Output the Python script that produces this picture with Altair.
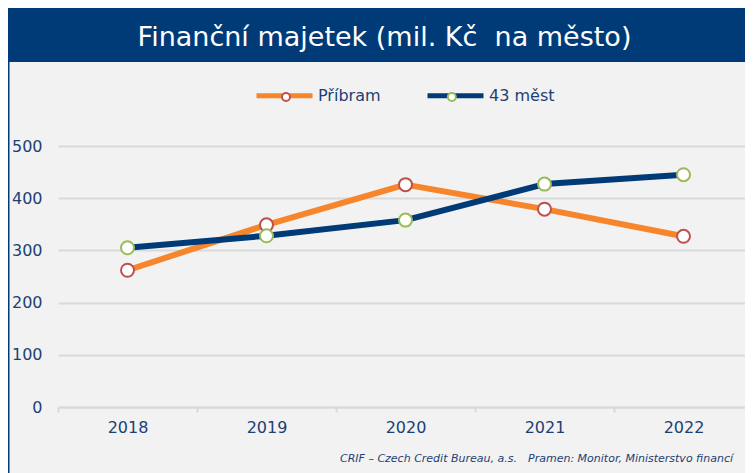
import altair as alt
import pandas as pd

# ---- data ----
years = ["2018", "2019", "2020", "2021", "2022"]
series_names = ["Příbram", "43 měst"]
pribram = [262, 349, 426, 379, 327]
mest43 = [305, 328, 358, 427, 445]

title_text = "Finanční majetek (mil. Kč\u00a0\u00a0na město)"
footer_left = "CRIF – Czech Credit Bureau, a.s."
footer_right = "Pramen: Monitor, Ministerstvo financí"

rows = []
for y, v in zip(years, pribram):
    rows.append({"rok": y, "serie": series_names[0], "hodnota": v})
for y, v in zip(years, mest43):
    rows.append({"rok": y, "serie": series_names[1], "hodnota": v})
df = pd.DataFrame(rows)

# ---- styles ----
NAVY = "#003B78"
ORANGE = "#F6852B"
RED = "#C0504D"
GREEN = "#9BBB59"
TEXT = "#1D3F72"
GRID = "#D9D9D9"
BG = "#F2F2F2"
FONT = "DejaVu Sans"

W, H = 695, 261
PAD_L, PAD_T, PAD_R, PAD_B = 50, 138, -8, 66

x_enc = alt.X(
    "rok:N",
    sort=years,
    bandPosition=0.5,
    scale=alt.Scale(type="band", paddingInner=0, paddingOuter=0),
    axis=alt.Axis(
        title=None, labelAngle=0, grid=False,
        domainColor=GRID, domainWidth=2,
        tickColor=GRID, tickWidth=2, tickSize=5, tickBand="extent",
        labelFont=FONT, labelFontSize=16, labelColor=TEXT,
        labelBaseline="middle", labelPadding=15,
    ),
)
y_enc = alt.Y(
    "hodnota:Q",
    scale=alt.Scale(domain=[0, 500], nice=False),
    axis=alt.Axis(
        title=None, values=[0, 100, 200, 300, 400, 500],
        grid=True, gridColor=GRID, gridWidth=2,
        domain=False, ticks=False, labelPadding=16,
        labelFont=FONT, labelFontSize=16, labelColor=TEXT,
    ),
)

L = 56      # legend line length
D = 8       # legend circle diameter
LX = 196
LY = -81
COLPAD = 36
LABW = 62.8  # approx width of first legend label

lines = alt.Chart(df).mark_line(strokeWidth=6, strokeCap="round", strokeJoin="round").encode(
    x=x_enc,
    y=y_enc,
    color=alt.Color(
        "serie:N",
        scale=alt.Scale(domain=series_names, range=[ORANGE, NAVY]),
        legend=alt.Legend(
            title=None, orient="none", direction="horizontal",
            legendX=LX, legendY=LY, padding=0,
            symbolType="stroke", symbolSize=L * L, symbolStrokeWidth=5,
            labelFont=FONT, labelFontSize=16, labelColor=TEXT,
            labelOffset=3, columnPadding=COLPAD,
        ),
    ),
    detail="serie:N",
)

points = alt.Chart(df).mark_point(shape="circle", filled=False, fill="white", fillOpacity=1,
                                  size=169, strokeWidth=2, opacity=1).encode(
    x=x_enc,
    y=y_enc,
    stroke=alt.Stroke(
        "serie:N",
        scale=alt.Scale(domain=series_names, range=[RED, GREEN]),
        legend=alt.Legend(
            title=None, orient="none", direction="horizontal",
            legendX=LX + L / 2 - D / 2, legendY=LY + L / 2 - D / 2, padding=0,
            symbolType="circle", symbolSize=D * D, symbolStrokeWidth=2,
            symbolFillColor="white",
            labelExpr="''", labelFontSize=16, labelOffset=0,
            columnPadding=COLPAD + L - D + 3 + LABW,
        ),
    ),
)

one = pd.DataFrame({"t": [title_text]})

title_bar = alt.Chart(one).mark_rect(color=NAVY).encode(
    x=alt.value(-PAD_L - 1), x2=alt.value(W + 8),
    y=alt.value(-PAD_T), y2=alt.value(-PAD_T + 54),
)
left_border = alt.Chart(one).mark_rect(color=NAVY).encode(
    x=alt.value(-PAD_L), x2=alt.value(-PAD_L + 1.5),
    y=alt.value(-PAD_T), y2=alt.value(H + PAD_B),
)
title = alt.Chart(one).mark_text(
    font=FONT, fontSize=27, color="white", align="center", baseline="alphabetic"
).encode(text="t:N", x=alt.value(326.5), y=alt.value(-100))

foot = pd.DataFrame({"a": [footer_left], "b": [footer_right]})
foot_l = alt.Chart(foot).mark_text(
    font=FONT, fontSize=11, fontStyle="italic", color=TEXT, align="left", baseline="middle"
).encode(text="a:N", x=alt.value(282), y=alt.value(313))
foot_r = alt.Chart(foot).mark_text(
    font=FONT, fontSize=11, fontStyle="italic", color=TEXT, align="right", baseline="middle"
).encode(text="b:N", x=alt.value(675), y=alt.value(313))

chart = alt.layer(
    title_bar, left_border, lines, points, title, foot_l, foot_r
).resolve_scale(
    color="independent", stroke="independent"
).properties(
    width=W, height=H,
    autosize=alt.AutoSizeParams(type="none"),
    padding={"left": PAD_L, "top": PAD_T, "right": PAD_R, "bottom": PAD_B},
    background=BG,
).configure_view(stroke=None)

chart.save("out.html", embed_options={"renderer": "svg", "actions": False})
